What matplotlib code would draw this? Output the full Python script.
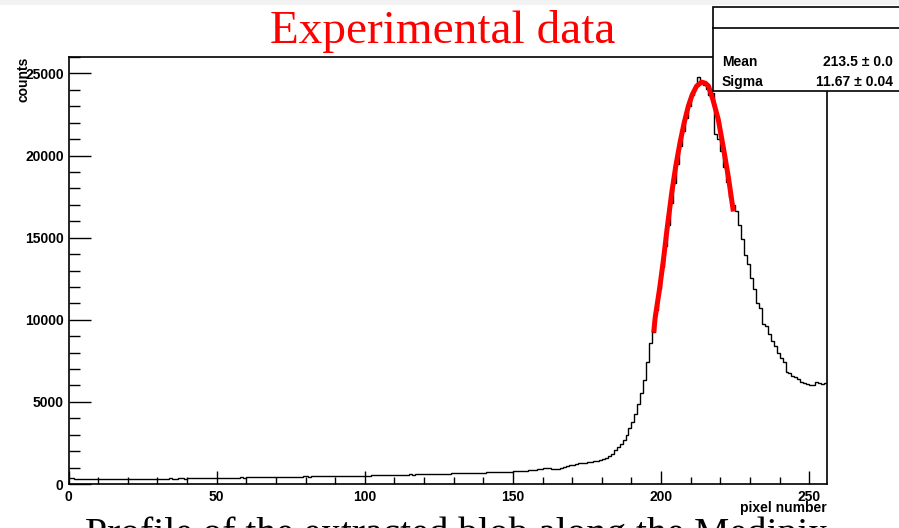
import matplotlib.pyplot as plt
import numpy as np
from matplotlib.ticker import MultipleLocator
from matplotlib.patches import Rectangle
from matplotlib.lines import Line2D

# histogram contents, one value per pixel bin (0..255)
counts = [
    340, 350, 330, 320, 320, 310, 300, 300, 310, 300,
    290, 290, 300, 300, 290, 300, 310, 300, 300, 310,
    310, 320, 310, 300, 310, 320, 320, 310, 320, 320,
    330, 320, 330, 330, 340, 330, 330, 340, 340, 330,
    340, 350, 340, 350, 350, 340, 350, 360, 370, 360,
    380, 370, 370, 380, 380, 390, 380, 390, 400, 390,
    400, 400, 410, 400, 410, 420, 410, 420, 430, 420,
    430, 430, 420, 430, 440, 440, 450, 440, 450, 460,
    460, 450, 460, 470, 460, 470, 480, 470, 480, 480,
    490, 480, 490, 480, 490, 500, 490, 490, 480, 490,
    500, 510, 520, 520, 530, 530, 540, 540, 550, 550,
    560, 550, 560, 570, 570, 580, 570, 580, 590, 590,
    600, 610, 600, 620, 610, 620, 630, 620, 630, 640,
    650, 640, 660, 650, 660, 670, 680, 670, 690, 700,
    700, 710, 720, 720, 730, 740, 740, 750, 750, 760,
    770, 780, 800, 810, 820, 840, 860, 880, 900, 920,
    950, 980, 960, 920, 900, 920, 980, 1050, 1100, 1140,
    1180, 1220, 1250, 1280, 1290, 1310, 1340, 1380, 1420, 1470,
    1520, 1560, 1700, 1800, 2100, 2250, 2450, 2700, 3000, 3400,
    3800, 4250, 4850, 5550, 6350, 7450, 8600, 9250, 10600, 11900,
    13200, 14500, 15800, 17100, 18300, 19500, 20600, 21500, 22300, 23000,
    23700, 24200, 24760, 24450, 24300, 24050, 23700, 23800, 21300, 21000,
    20300, 19300, 18400, 17500, 17000, 16600, 15800, 14900, 13950, 13400,
    12550, 11900, 11050, 10700, 9750, 9600, 9150, 8700, 8400, 8000,
    7700, 7400, 6850, 6750, 6600, 6500, 6400, 6200, 6150, 6100,
    6050, 6000, 6200, 6150, 6100, 6180,
]
bin_edges = np.arange(len(counts) + 1)

# gaussian fit curve as drawn
fit_x = [197.5, 198.0, 199.5, 200.8, 202.0, 203.6, 205.0, 206.4, 207.8,
         209.2, 210.5, 212.0, 213.7, 215.0, 216.0, 217.5, 219.3, 221.0,
         222.7, 224.4]
fit_y = [9210, 10120, 11900, 13660, 15500, 17740, 19400, 20790, 22000,
         23010, 23700, 24230, 24470, 24400, 24230, 23400, 22200, 20500,
         18700, 16590]

x_ticks = [0, 50, 100, 150, 200, 250]
y_ticks = [0, 5000, 10000, 15000, 20000, 25000]

W, H = 899, 528
fig = plt.figure(figsize=(W / 100, H / 100), dpi=100)
plt.rcParams['font.family'] = ['Liberation Sans', 'DejaVu Sans']

# thin grey strip at the very top
fig.add_artist(Rectangle((0, 1 - 5 / H), 1, 5 / H, transform=fig.transFigure,
                         facecolor='#f2f2f2', edgecolor='none'))

ax = fig.add_axes([68.5 / W, 1 - 484 / H, (827 - 68.5) / W, (484 - 57) / H])
ax.stairs(counts, bin_edges, color='black', lw=1.0, baseline=None)
ax.plot(fit_x, fit_y, color='red', lw=3.6, solid_capstyle='butt')

ax.set_xlim(0, 256)
ax.set_ylim(0, 26000)
ax.set_xticks(x_ticks)
ax.set_yticks(y_ticks)
ax.xaxis.set_minor_locator(MultipleLocator(10))
ax.yaxis.set_minor_locator(MultipleLocator(1000))
ax.tick_params(axis='x', which='major', direction='in', length=9.5, width=1.0, pad=4)
ax.tick_params(axis='x', which='minor', direction='in', length=4.7, width=1.0)
ax.tick_params(axis='y', which='major', direction='in', length=16, width=1.0, pad=3.5)
ax.tick_params(axis='y', which='minor', direction='in', length=8, width=1.0)
for lab in ax.get_xticklabels() + ax.get_yticklabels():
    lab.set_fontweight('bold')
    lab.set_fontsize(10)
for sp in ax.spines.values():
    sp.set_linewidth(1.2)

fig.text(24 / W, 1 - 57 / H, 'counts', rotation=90, ha='center', va='top',
         fontsize=10, fontweight='bold')
fig.text(827 / W, 1 - 508 / H, 'pixel number', ha='right', va='center',
         fontsize=10, fontweight='bold')

fig.text(443 / W, 1 - 43 / H, 'Experimental data', color='red', ha='center',
         va='baseline', fontsize=34, family=['Liberation Serif', 'DejaVu Serif'])

# statistics box (extends past the right edge)
bx0, by0, by1, bhead = 713, 7, 91, 28
fig.add_artist(Rectangle((bx0 / W, 1 - by1 / H), (W + 10 - bx0) / W, (by1 - by0) / H,
                         transform=fig.transFigure, facecolor='white',
                         edgecolor='black', lw=1.2, clip_on=False))
fig.add_artist(Line2D([bx0 / W, 1], [1 - bhead / H, 1 - bhead / H],
                      transform=fig.transFigure, color='black', lw=1.2))
stats = [('Mean', '213.5 \u00b1 0.0', 62), ('Sigma', '11.67 \u00b1 0.04', 82)]
for name, val, yy in stats:
    fig.text(722 / W, 1 - yy / H, name, ha='left', va='center', fontsize=10,
             fontweight='bold')
    fig.text(893 / W, 1 - yy / H, val, ha='right', va='center', fontsize=10,
             fontweight='bold')

# caption cut off at the bottom of the image
fig.text(85 / W, 1 - 545 / H, 'Profile of the extracted blob along the Medipix',
         ha='left', va='baseline', fontsize=28.5,
         family=['Liberation Serif', 'DejaVu Serif'])

fig.savefig('out.png', dpi=100)
